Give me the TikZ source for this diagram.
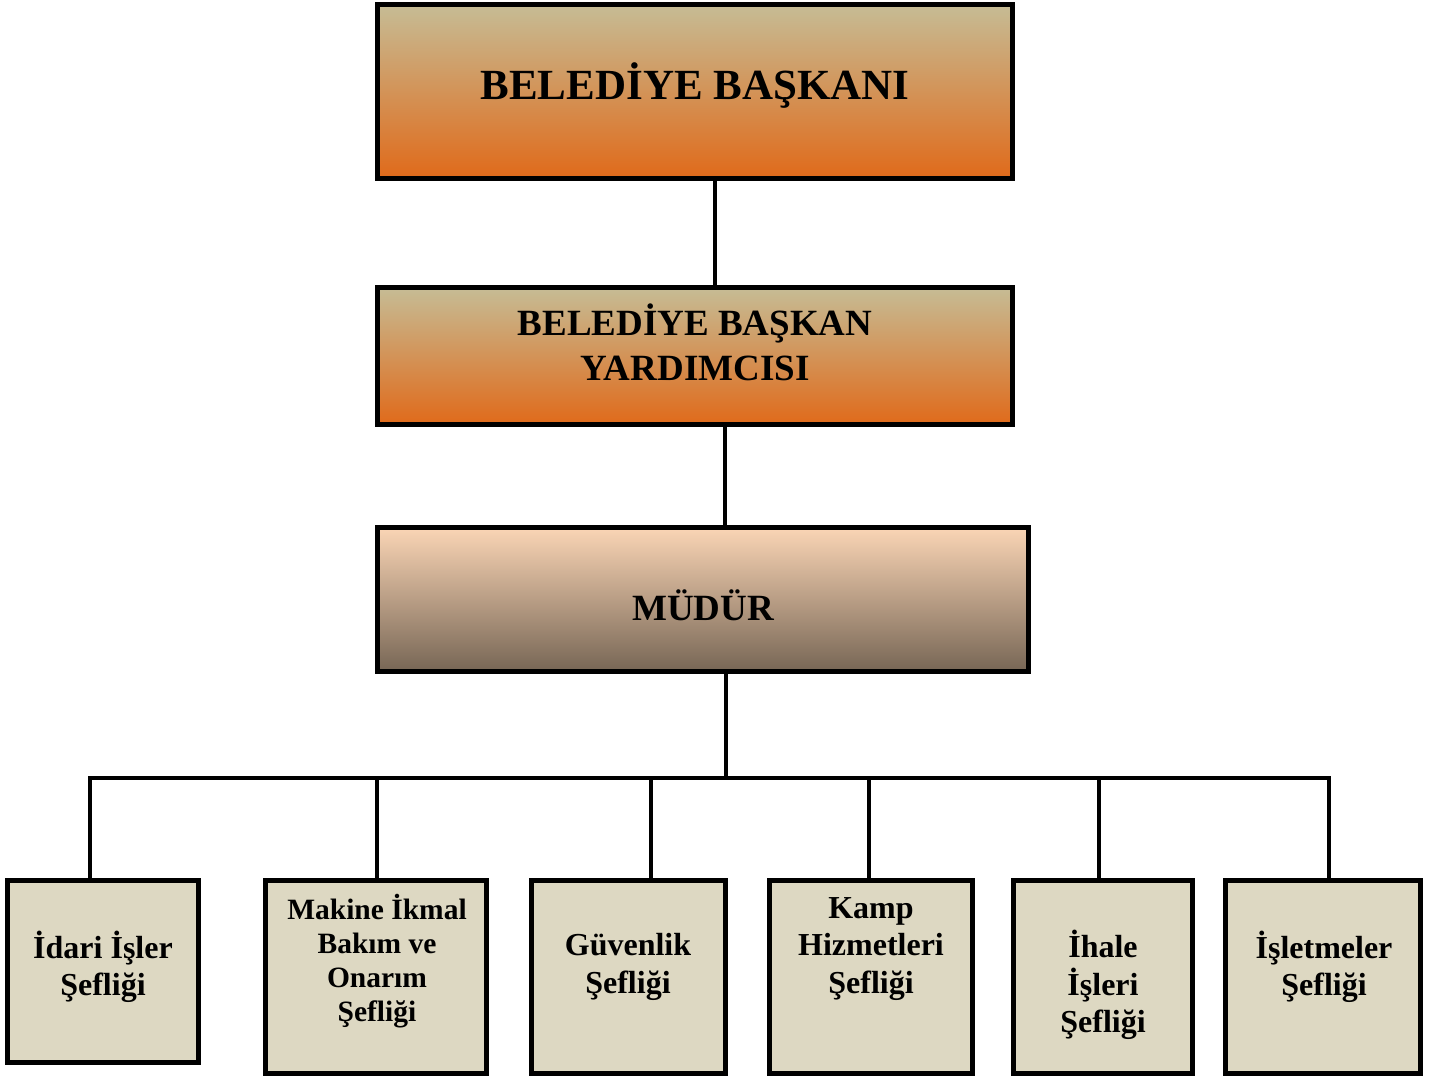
\documentclass[tikz,border=0pt]{standalone}
\usepackage{fontspec}
\setmainfont{Liberation Serif}
\begin{document}
\begin{tikzpicture}[x=1pt,y=-1pt,
  box/.style={draw=black,line width=5pt,rectangle,inner sep=0pt},
  headbox/.style={box,top color=hkhaki,middle color=hmid,bottom color=horange},
  mudbox/.style={box,top color=mtop,middle color=mmid,bottom color=mbot},
  subbox/.style={box,fill=subfill},
  txt/.style={font=\bfseries,align=center,inner sep=0pt},
  conn/.style={draw=black,line width=4pt}]
\definecolor{hkhaki}{HTML}{C6BC95}
\definecolor{hmid}{HTML}{D6A475}
\definecolor{horange}{HTML}{E06A1A}
\definecolor{mtop}{HTML}{FAD5B5}
\definecolor{mmid}{HTML}{CAA98C}
\definecolor{mbot}{HTML}{776655}
\definecolor{subfill}{HTML}{DDD8C2}
\useasboundingbox (0,0) rectangle (1440,1077);
% top boxes
\node[headbox,minimum width=635pt,minimum height=174pt] (b1) at (695,91.5) {};
\node[txt,font=\bfseries\fontsize{43}{48}\selectfont] (b1t) at (695,86) {BELEDİYE BAŞKANI};
\node[headbox,minimum width=635pt,minimum height=137pt] (b2) at (695,356) {};
\node[txt,font=\bfseries\fontsize{37}{45}\selectfont] (b2t) at (695,342) {BELEDİYE BAŞKAN\\YARDIMCISI};
\node[mudbox,minimum width=651pt,minimum height=144pt] (b3) at (703,599.5) {};
\node[txt,font=\bfseries\fontsize{37}{42}\selectfont] (b3t) at (703,605) {MÜDÜR};
% sub boxes
\node[subbox,minimum width=191pt,minimum height=182pt] (s1) at (103,971.5) {};
\node[subbox,minimum width=221pt,minimum height=193pt] (s2) at (376,977) {};
\node[subbox,minimum width=194pt,minimum height=193pt] (s3) at (628.5,977) {};
\node[subbox,minimum width=203pt,minimum height=193pt] (s4) at (871,977) {};
\node[subbox,minimum width=179pt,minimum height=193pt] (s5) at (1103,977) {};
\node[subbox,minimum width=195pt,minimum height=193pt] (s6) at (1323,977) {};
\begin{scope}[every node/.style={txt,font=\bfseries\fontsize{32}{37.5}\selectfont}]
\node (t1) at (103,967) {İdari İşler\\Şefliği};
\node[font=\bfseries\fontsize{29.5}{34}\selectfont] (t2) at (377,961) {Makine İkmal\\Bakım ve\\Onarım\\Şefliği};
\node (t3) at (628,967) {Güvenlik\\Şefliği};
\node (t4) at (871,949) {Kamp\\Hizmetleri\\Şefliği};
\node (t5) at (1103,985) {İhale\\İşleri\\Şefliği};
\node (t6) at (1324,967) {İşletmeler\\Şefliği};
\end{scope}
% connectors
\coordinate (bus) at (726,778);
\coordinate (busL) at (88,778);
\coordinate (busR) at (1331,778);
\draw[conn] ([xshift=20pt]b1.south) -- ([xshift=20pt]b2.north);
\draw[conn] ([xshift=30pt]b2.south) -- ([xshift=30pt]b2.south |- b3.north);
\draw[conn] ([xshift=23pt]b3.south) -- (bus);
\draw[conn] (busL) -- (busR);
\draw[conn] ([xshift=-13pt]s1.north) -- ([xshift=-13pt]s1.north |- bus);
\draw[conn] ([xshift=1pt]s2.north) -- ([xshift=1pt]s2.north |- bus);
\draw[conn] ([xshift=22.5pt]s3.north) -- ([xshift=22.5pt]s3.north |- bus);
\draw[conn] ([xshift=-2pt]s4.north) -- ([xshift=-2pt]s4.north |- bus);
\draw[conn] ([xshift=-4pt]s5.north) -- ([xshift=-4pt]s5.north |- bus);
\draw[conn] ([xshift=6pt]s6.north) -- ([xshift=6pt]s6.north |- bus);
\end{tikzpicture}
\end{document}
